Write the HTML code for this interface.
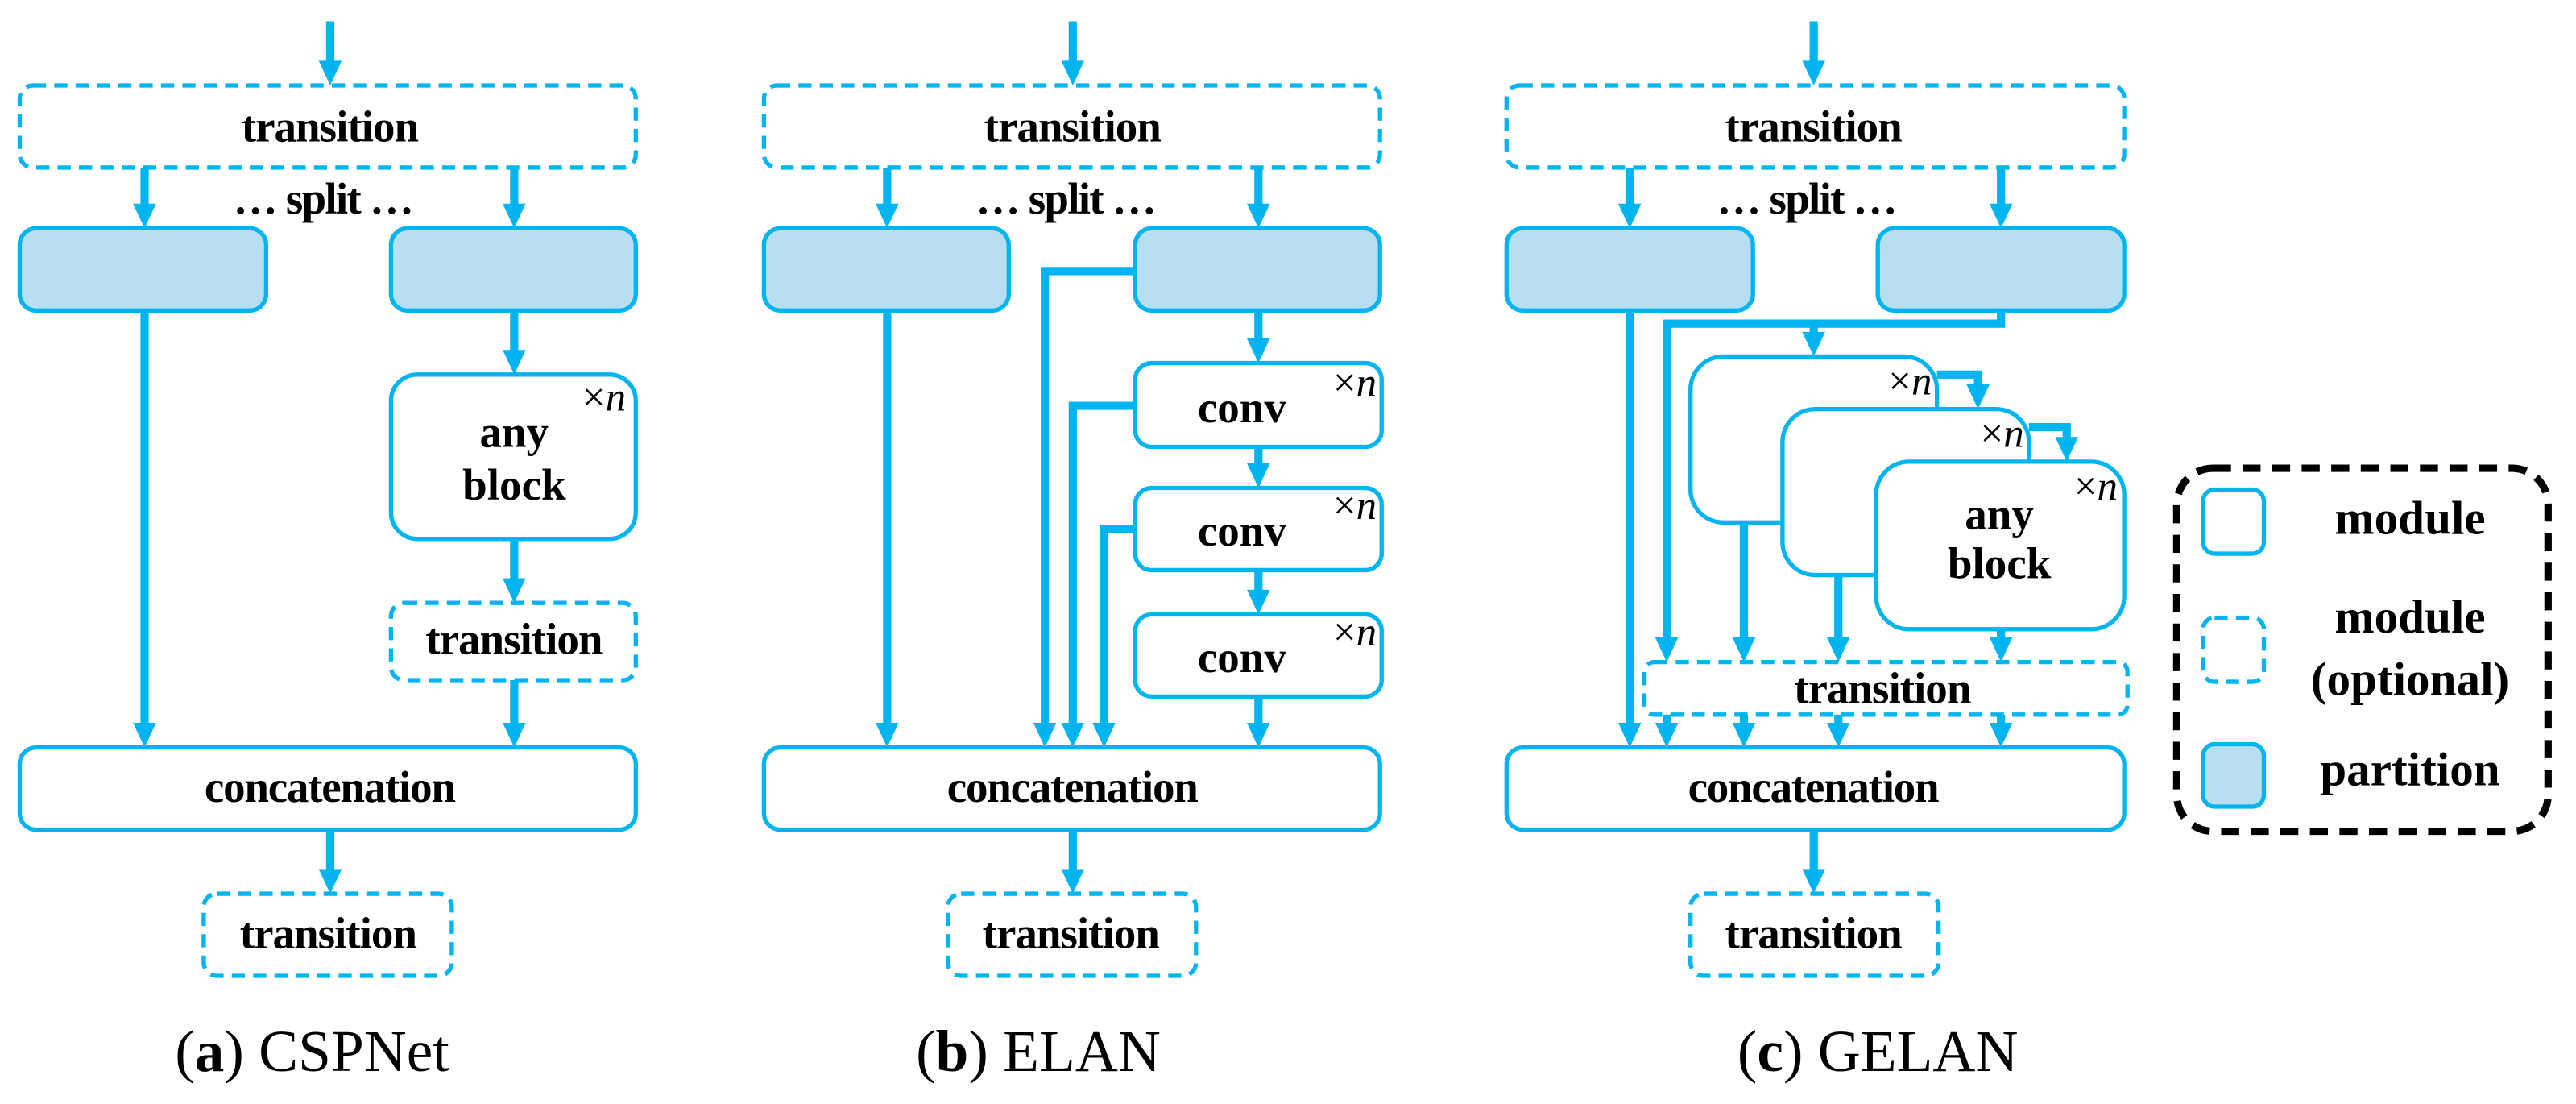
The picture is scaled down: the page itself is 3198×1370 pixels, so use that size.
<!DOCTYPE html>
<html><head><meta charset="utf-8"><style>
html,body{margin:0;padding:0;background:#fff;}
svg{display:block;}
text{font-family:"Liberation Serif","Times New Roman",serif;fill:#000;}
.t{font-family:"Liberation Serif","Times New Roman",serif;font-size:27px;font-weight:bold;text-anchor:middle;}
.n{font-family:"Liberation Serif",serif;font-size:25px;text-anchor:end;}
.cap{font-family:"Liberation Serif",serif;font-size:36px;text-anchor:middle;}
.bb{font-weight:bold;}
.lg{font-family:"Liberation Serif","Times New Roman",serif;font-size:29px;font-weight:bold;text-anchor:middle;}
.b{fill:#fff;stroke:#00b4ef;stroke-width:2.6;}
.d{fill:#fff;stroke:#00b4ef;stroke-width:2.6;stroke-dasharray:8 5;}
.p{fill:#b8dff1;stroke:#00b4ef;stroke-width:2.6;}
.l{fill:none;stroke:#00b4ef;stroke-width:5;}
.h{fill:#00b4ef;}
</style></head><body>
<svg width="3198" height="1370" viewBox="0 0 1568 672" preserveAspectRatio="none" xmlns="http://www.w3.org/2000/svg">
<defs>
<g id="ah"><polygon class="h" points="-7,-15 7,-15 0,0"/></g>
</defs>

<!-- ===== Panel a ===== -->
<path class="l" d="M201,13V40"/><use href="#ah" x="201" y="52"/>
<rect class="d" x="12" y="52" width="375" height="50" rx="8"/>
<text class="t" x="201" y="86" textLength="108">transition</text>
<path class="l" d="M88,102V126M313,102V126"/><use href="#ah" x="88" y="139"/><use href="#ah" x="313" y="139"/>
<text class="t" x="197" y="130" textLength="110">… split …</text>
<rect class="p" x="12" y="139" width="150" height="50" rx="10"/>
<rect class="p" x="238" y="139" width="149" height="50" rx="10"/>
<path class="l" d="M88,189V442"/><use href="#ah" x="88" y="455"/>
<path class="l" d="M313,189V215"/><use href="#ah" x="313" y="228"/>
<rect class="b" x="238" y="228" width="149" height="100" rx="16"/>
<text class="n" x="381" y="250">×<tspan font-style="italic">n</tspan></text>
<text class="t" x="313" y="272">any</text>
<text class="t" x="313" y="304">block</text>
<path class="l" d="M313,328V354"/><use href="#ah" x="313" y="367"/>
<rect class="d" x="238" y="367" width="149" height="47" rx="8"/>
<text class="t" x="313" y="398" textLength="108">transition</text>
<path class="l" d="M313,414V442"/><use href="#ah" x="313" y="455"/>
<rect class="b" x="12" y="455" width="375" height="50" rx="10"/>
<text class="t" x="201" y="488" textLength="153">concatenation</text>
<path class="l" d="M201,505V531"/><use href="#ah" x="201" y="544"/>
<rect class="d" x="124" y="544" width="151" height="50" rx="8"/>
<text class="t" x="200" y="577" textLength="108">transition</text>
<text class="cap" x="190" y="652">(<tspan class="bb">a</tspan>) CSPNet</text>

<!-- ===== Panel b ===== -->
<path class="l" d="M653,13V40"/><use href="#ah" x="653" y="52"/>
<rect class="d" x="465" y="52" width="375" height="50" rx="8"/>
<text class="t" x="653" y="86" textLength="108">transition</text>
<path class="l" d="M540,102V126M766,102V126"/><use href="#ah" x="540" y="139"/><use href="#ah" x="766" y="139"/>
<text class="t" x="649" y="130" textLength="110">… split …</text>
<rect class="p" x="465" y="139" width="149" height="50" rx="10"/>
<rect class="p" x="691" y="139" width="149" height="50" rx="10"/>
<path class="l" d="M540,189V442"/><use href="#ah" x="540" y="455"/>
<path class="l" d="M691,165H636V442"/><use href="#ah" x="636" y="455"/>
<path class="l" d="M766,189V208"/><use href="#ah" x="766" y="221"/>
<rect class="b" x="691" y="221" width="150" height="51" rx="10"/>
<text class="t" x="756" y="257">conv</text>
<text class="n" x="838" y="241">×<tspan font-style="italic">n</tspan></text>
<path class="l" d="M691,247H653V442"/><use href="#ah" x="653" y="455"/>
<path class="l" d="M766,272V284"/><use href="#ah" x="766" y="297"/>
<rect class="b" x="691" y="297" width="150" height="50" rx="10"/>
<text class="t" x="756" y="332">conv</text>
<text class="n" x="838" y="316">×<tspan font-style="italic">n</tspan></text>
<path class="l" d="M691,322H672V442"/><use href="#ah" x="672" y="455"/>
<path class="l" d="M766,347V361"/><use href="#ah" x="766" y="374"/>
<rect class="b" x="691" y="374" width="150" height="50" rx="10"/>
<text class="t" x="756" y="409">conv</text>
<text class="n" x="838" y="393">×<tspan font-style="italic">n</tspan></text>
<path class="l" d="M766,424V442"/><use href="#ah" x="766" y="455"/>
<rect class="b" x="465" y="455" width="375" height="50" rx="10"/>
<text class="t" x="653" y="488" textLength="153">concatenation</text>
<path class="l" d="M653,505V531"/><use href="#ah" x="653" y="544"/>
<rect class="d" x="577" y="544" width="151" height="50" rx="8"/>
<text class="t" x="652" y="577" textLength="108">transition</text>
<text class="cap" x="632" y="652">(<tspan class="bb">b</tspan>) ELAN</text>

<!-- ===== Panel c ===== -->
<path class="l" d="M1104,13V40"/><use href="#ah" x="1104" y="52"/>
<rect class="d" x="917" y="52" width="376" height="50" rx="8"/>
<text class="t" x="1104" y="86" textLength="108">transition</text>
<path class="l" d="M992,102V126M1218,102V126"/><use href="#ah" x="992" y="139"/><use href="#ah" x="1218" y="139"/>
<text class="t" x="1100" y="130" textLength="110">… split …</text>
<rect class="p" x="917" y="139" width="150" height="50" rx="10"/>
<rect class="p" x="1143" y="139" width="150" height="50" rx="10"/>
<path class="l" d="M992,189V442"/><use href="#ah" x="992" y="455"/>
<path class="l" d="M1218,189V197H1014.5V390"/><use href="#ah" x="1014.5" y="403"/>
<path class="l" d="M1104,197V204"/><use href="#ah" x="1104" y="217"/>
<rect class="b" x="1029" y="217" width="150" height="101" rx="20"/>
<text class="n" x="1176" y="240">×<tspan font-style="italic">n</tspan></text>
<path class="l" d="M1179,228H1204V236"/><use href="#ah" x="1204" y="249"/>
<rect class="b" x="1085" y="249" width="150" height="101" rx="20"/>
<text class="n" x="1232" y="272">×<tspan font-style="italic">n</tspan></text>
<path class="l" d="M1235,260H1258V268"/><use href="#ah" x="1258" y="281"/>
<rect class="b" x="1142" y="281" width="151" height="102" rx="20"/>
<text class="n" x="1289" y="304">×<tspan font-style="italic">n</tspan></text>
<text class="t" x="1217" y="322">any</text>
<text class="t" x="1217" y="352">block</text>
<path class="l" d="M1061.5,318V390M1119,350V390"/><use href="#ah" x="1061.5" y="403"/><use href="#ah" x="1119" y="403"/>
<path class="l" d="M1218,383V390"/><use href="#ah" x="1218" y="403"/>
<rect class="d" x="1001" y="403" width="294" height="32" rx="6"/>
<text class="t" x="1146" y="428" textLength="108">transition</text>
<path class="l" d="M1014.5,435V441M1061.5,435V441M1119,435V441M1218,435V441"/>
<use href="#ah" x="1014.5" y="455"/><use href="#ah" x="1061.5" y="455"/><use href="#ah" x="1119" y="455"/><use href="#ah" x="1218" y="455"/>
<rect class="b" x="917" y="455" width="376" height="50" rx="10"/>
<text class="t" x="1104" y="488" textLength="153">concatenation</text>
<path class="l" d="M1104,505V531"/><use href="#ah" x="1104" y="544"/>
<rect class="d" x="1029" y="544" width="151" height="50" rx="8"/>
<text class="t" x="1104" y="577" textLength="108">transition</text>
<text class="cap" x="1143" y="652">(<tspan class="bb">c</tspan>) GELAN</text>

<!-- ===== Legend ===== -->
<rect x="1325" y="285" width="226" height="221" rx="22" fill="#fff" stroke="#000" stroke-width="4.5" stroke-dasharray="11 7"/>
<rect class="b" x="1341" y="298" width="37" height="39" rx="7"/>
<rect class="d" x="1341" y="376" width="37" height="39" rx="7" stroke-dasharray="6 4"/>
<rect class="p" x="1341" y="453" width="37" height="38" rx="7"/>
<text class="lg" x="1467" y="325">module</text>
<text class="lg" x="1467" y="385">module</text>
<text class="lg" x="1467" y="423">(optional)</text>
<text class="lg" x="1467" y="478">partition</text>
</svg>
</body></html>
